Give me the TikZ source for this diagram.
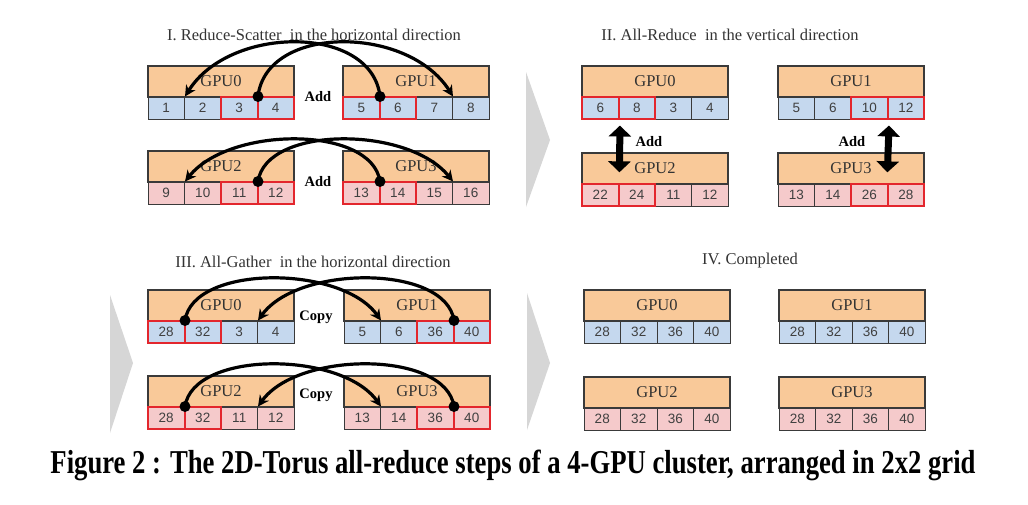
\documentclass[tikz,border=0pt]{standalone}
\usepackage{fontspec}
\setmainfont{Liberation Serif}
\newfontfamily\cellfont{Liberation Sans}
\usetikzlibrary{arrows.meta,calc}
\definecolor{gpuorange}{HTML}{F9C999}
\definecolor{cellblue}{HTML}{C5D8EE}
\definecolor{cellpink}{HTML}{F5CACB}
\definecolor{hired}{HTML}{E3262D}
\definecolor{edge}{HTML}{3A3A3A}
\definecolor{chevgray}{HTML}{D6D6D6}
\tikzset{
  gpubox/.style={draw=edge, line width=1.3pt, fill=gpuorange, minimum height=31pt, inner sep=0pt, font=\fontsize{16.5}{16.5}\selectfont, text=black!80},
  cellbox/.style={draw=edge, line width=1pt, minimum height=22pt, inner sep=0pt, font=\cellfont\fontsize{13.5}{13.5}\selectfont, text=black!75},
  redcell/.style={draw=hired, line width=2pt, minimum width=36.5pt, minimum height=22pt, inner sep=0pt, outer sep=0pt},
  title/.style={font=\fontsize{16.5}{16.5}\selectfont, text=black!80},
  oplabel/.style={font=\bfseries\fontsize{14.5}{14.5}\selectfont},
  curvearrow/.style={line width=3.2pt, -{Stealth[length=11pt,width=11pt]}},
  vdouble/.style={line width=7pt, {Triangle[length=11pt,width=22pt]}-{Triangle[length=11pt,width=22pt]}},
  dotmark/.style={fill=black},
  chev/.style={fill=chevgray},
}
% #1 name, #2 left x, #3 top y, #4 label, #5 cell colour, #6 numbers
\newcommand\gpublock[6]{%
  \node[gpubox, minimum width=146pt] (#1) at (#2+73,#3+15.5) {#4};
  \foreach \v [count=\i] in {#6} {
    \node[cellbox, fill=#5, minimum width=36.5pt] (#1-c\i) at (#2+36.5*\i-18.25,#3+42) {\v};
  }
}
\newcommand\redcells[1]{%
  \foreach \cn in {#1} {
    \node[redcell] at (\cn.center) {};
  }
}
\begin{document}
\begin{tikzpicture}[x=1pt,y=-1pt]
\useasboundingbox (0,0) rectangle (1028,504);
\fill[white] (0,0) rectangle (1028,504);

% ---------- Panel I ----------
\node[title] (t1) at (314,35) {I. Reduce-Scatter\ \ in the horizontal direction};
\gpublock{a0}{148}{66}{GPU0}{cellblue}{1,2,3,4}
\gpublock{a1}{343}{66}{GPU1}{cellblue}{5,6,7,8}
\gpublock{a2}{148}{151}{GPU2}{cellpink}{9,10,11,12}
\gpublock{a3}{343}{151}{GPU3}{cellpink}{13,14,15,16}
\redcells{a0-c3,a0-c4,a1-c1,a1-c2,a2-c3,a2-c4,a3-c1,a3-c2}
\node[oplabel] (add1) at (318,97) {Add};
\node[oplabel] (add2) at (318,182) {Add};
\draw[curvearrow] (a0-c3.north east) .. controls +(8,-72) and +(-45,-72) .. (a1-c3.north east);
\draw[curvearrow] (a1-c1.north east) .. controls +(-8,-72) and +(45,-72) .. (a0-c1.north east);
\fill[dotmark] (a0-c3.north east) circle (5.5pt);
\fill[dotmark] (a1-c1.north east) circle (5.5pt);
\draw[curvearrow] (a2-c3.north east) .. controls +(8,-56) and +(-45,-56) .. (a3-c3.north east);
\draw[curvearrow] (a3-c1.north east) .. controls +(-8,-56) and +(45,-56) .. (a2-c1.north east);
\fill[dotmark] (a2-c3.north east) circle (5.5pt);
\fill[dotmark] (a3-c1.north east) circle (5.5pt);

% ---------- Panel II ----------
\fill[chev] (526,72) -- (550,140) -- (526,207) -- cycle;
\node[title] (t2) at (730,35) {II. All-Reduce\ \ in the vertical direction};
\gpublock{b0}{582}{66}{GPU0}{cellblue}{6,8,3,4}
\gpublock{b1}{778}{66}{GPU1}{cellblue}{5,6,10,12}
\gpublock{b2}{582}{153}{GPU2}{cellpink}{22,24,11,12}
\gpublock{b3}{778}{153}{GPU3}{cellpink}{13,14,26,28}
\redcells{b0-c1,b0-c2,b1-c3,b1-c4,b2-c1,b2-c2,b3-c3,b3-c4}
\draw[vdouble] ($(b0-c1.south east)+(1,6)$) -- ($(b2.north west)+(38,20)$);
\draw[vdouble] ($(b1-c3.south east)+(1,6)$) -- ($(b3.north west)+(110,20)$);
\node[oplabel] (add3) at (649,142) {Add};
\node[oplabel] (add4) at (852,142) {Add};

% ---------- Panel III ----------
\fill[chev] (110,295) -- (133,363) -- (110,433) -- cycle;
\node[title] (t3) at (313,262) {III. All-Gather\ \ in the horizontal direction};
\gpublock{c0}{148}{290}{GPU0}{cellblue}{28,32,3,4}
\gpublock{c1}{344}{290}{GPU1}{cellblue}{5,6,36,40}
\gpublock{c2}{148}{376}{GPU2}{cellpink}{28,32,11,12}
\gpublock{c3}{344}{376}{GPU3}{cellpink}{13,14,36,40}
\redcells{c0-c1,c0-c2,c1-c3,c1-c4,c2-c1,c2-c2,c3-c3,c3-c4}
\node[oplabel] (copy1) at (316,317) {Copy};
\node[oplabel] (copy2) at (316,395) {Copy};
\draw[curvearrow] (c0-c1.north east) .. controls +(8,-56) and +(-40,-56) .. (c1-c1.north east);
\draw[curvearrow] (c1-c3.north east) .. controls +(-8,-56) and +(40,-56) .. (c0-c3.north east);
\fill[dotmark] (c0-c1.north east) circle (5.5pt);
\fill[dotmark] (c1-c3.north east) circle (5.5pt);
\draw[curvearrow] (c2-c1.north east) .. controls +(8,-56) and +(-40,-56) .. (c3-c1.north east);
\draw[curvearrow] (c3-c3.north east) .. controls +(-8,-56) and +(40,-56) .. (c2-c3.north east);
\fill[dotmark] (c2-c1.north east) circle (5.5pt);
\fill[dotmark] (c3-c3.north east) circle (5.5pt);

% ---------- Panel IV ----------
\fill[chev] (527,293) -- (550,363) -- (527,430) -- cycle;
\node[title] (t4) at (750,261) {IV. Completed};
\gpublock{d0}{584}{290}{GPU0}{cellblue}{28,32,36,40}
\gpublock{d1}{779}{290}{GPU1}{cellblue}{28,32,36,40}
\gpublock{d2}{584}{377}{GPU2}{cellpink}{28,32,36,40}
\gpublock{d3}{779}{377}{GPU3}{cellpink}{28,32,36,40}

% ---------- Caption ----------
\node (cap) at (513,465) {\scalebox{1}[1.25]{\resizebox{925pt}{!}{\bfseries\fontsize{20}{20}\selectfont Figure 2 : The 2D-Torus all-reduce steps of a 4-GPU cluster, arranged in 2x2 grid}}};
\end{tikzpicture}
\end{document}
